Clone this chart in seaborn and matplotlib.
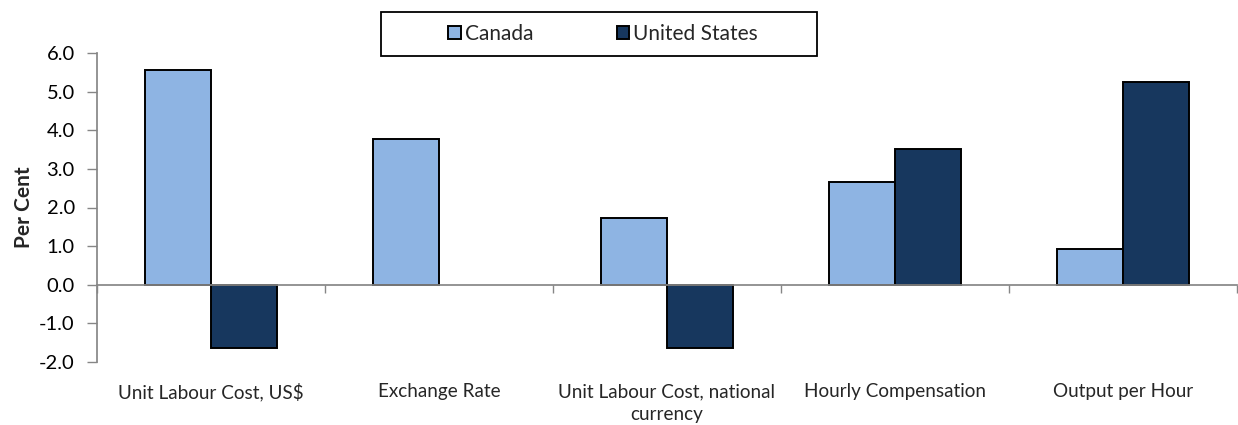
import matplotlib
matplotlib.use("Agg")
import matplotlib.pyplot as plt
from matplotlib.patches import Rectangle
import seaborn as sns
import pandas as pd
import numpy as np

categories = ["Unit Labour Cost, US$", "Exchange Rate",
              "Unit Labour Cost, national\ncurrency", "Hourly Compensation",
              "Output per Hour"]
canada = [5.56, 3.78, 1.72, 2.66, 0.93]
united_states = [-1.63, np.nan, -1.63, 3.52, 5.25]
series_names = ["Canada", "United States"]
yticks = [-2.0, -1.0, 0.0, 1.0, 2.0, 3.0, 4.0, 5.0, 6.0]

df = pd.DataFrame({
    "category": categories * 2,
    "value": canada + united_states,
    "series": [series_names[0]] * len(categories) + [series_names[1]] * len(categories),
})

sns.set_theme(style="white")
plt.rcParams["font.family"] = ["Lato", "DejaVu Sans"]
plt.rcParams["axes.unicode_minus"] = False

fig = plt.figure(figsize=(12.38, 4.25), dpi=100)
ax = fig.add_axes([97 / 1238, 1 - 362 / 425, 1140 / 1238, 309 / 425])

palette = {"Canada": "#8EB4E3", "United States": "#17375E"}
sns.barplot(data=df, x="category", y="value", hue="series", order=categories,
            hue_order=series_names, palette=palette, width=0.575, gap=0,
            edgecolor="black", linewidth=1.4, saturation=1, ax=ax, legend=True)

ax.set_ylim(-2, 6)
ax.set_xlim(-0.5, 4.5)
ax.set_yticks(yticks)
ax.set_yticklabels([f"{v:.1f}" for v in yticks])
ax.tick_params(axis="y", length=7, width=1, color="#868686", pad=9,
               labelsize=14.5, left=True, labelcolor="black")

# horizontal axis line at zero with ticks at category boundaries
ax.spines["bottom"].set_position(("data", 0))
ax.spines["bottom"].set_color("#868686")
ax.spines["left"].set_color("#868686")
ax.spines["top"].set_visible(False)
ax.spines["right"].set_visible(False)
ax.set_xticks([i - 0.5 for i in range(len(categories) + 1)])
ax.set_xticklabels([])
ax.tick_params(axis="x", length=6, width=1, color="#868686", bottom=True)
ax.set_xlabel("")

for i, label in enumerate(categories):
    ax.text(i, -0.068, label, transform=ax.get_xaxis_transform(),
            ha="center", va="top", fontsize=13.6, multialignment="center",
            linespacing=1.4)

ax.set_ylabel("Per Cent", fontsize=15, fontweight="bold")
ax.yaxis.set_label_coords(-0.055, 0.5)

handles, labels = ax.get_legend_handles_labels()
ax.legend(handles, labels, loc="center", bbox_to_anchor=(603 / 1238, 1 - 34 / 425),
          bbox_transform=fig.transFigure, ncol=2, frameon=False, fontsize=15,
          handlelength=0.6, handleheight=0.6, handletextpad=0.2,
          columnspacing=4.0)
fig.patches.append(Rectangle((381 / 1238, 1 - 56 / 425), 436 / 1238, 44 / 425,
                             transform=fig.transFigure, fill=False,
                             edgecolor="black", linewidth=1.3))

fig.savefig("out.png", dpi=100)
